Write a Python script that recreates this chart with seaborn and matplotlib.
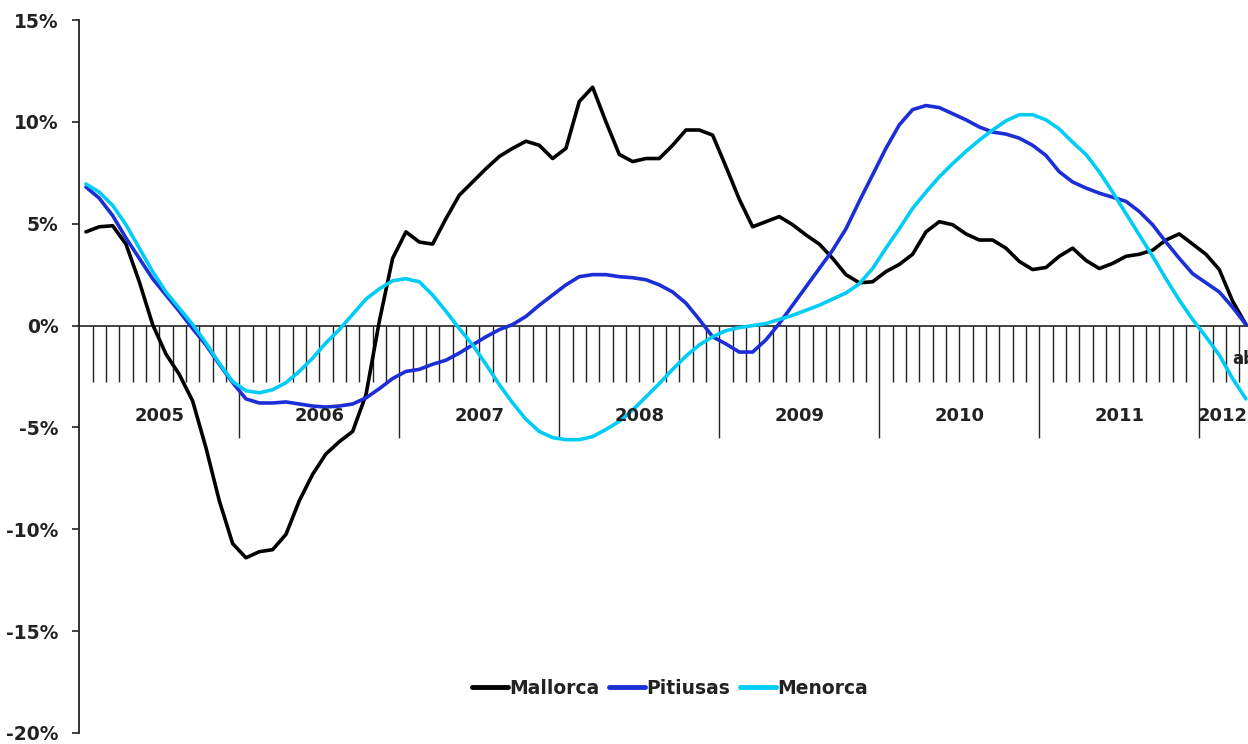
import numpy as np
import pandas as pd
import seaborn as sns
import matplotlib.pyplot as plt
from matplotlib.ticker import FuncFormatter

# monthly values, Jan 2005 .. Apr 2012 (%)
mallorca = [4.6, 4.85, 4.9, 4.0, 2.15, 0.05, -1.4, -2.4, -3.7, -6.0, -8.6, -10.7,
            -11.4, -11.1, -11.0, -10.25, -8.6, -7.3, -6.3, -5.7, -5.2, -3.4, 0.2, 3.3,
            4.6, 4.1, 4.0, 5.25, 6.4, 7.05, 7.7, 8.3, 8.7, 9.05, 8.85, 8.2,
            8.7, 11.0, 11.7, 10.0, 8.4, 8.05, 8.2, 8.2, 8.85, 9.6, 9.6, 9.35,
            7.8, 6.2, 4.85, 5.1, 5.35, 4.95, 4.45, 4.0, 3.3, 2.5, 2.1, 2.15,
            2.65, 3.0, 3.5, 4.6, 5.1, 4.95, 4.5, 4.2, 4.2, 3.8, 3.15, 2.75,
            2.85, 3.4, 3.8, 3.2, 2.8, 3.05, 3.4, 3.5, 3.7, 4.2, 4.5, 4.0,
            3.5, 2.75, 1.2, 0.05]
pitiusas = [6.8, 6.25, 5.4, 4.3, 3.3, 2.3, 1.5, 0.7, -0.15, -0.95, -1.9, -2.8,
            -3.6, -3.8, -3.8, -3.75, -3.85, -3.95, -4.0, -3.95, -3.85, -3.55, -3.1, -2.6,
            -2.25, -2.15, -1.9, -1.7, -1.35, -0.95, -0.55, -0.2, 0.05, 0.45, 1.0, 1.5,
            2.0, 2.4, 2.5, 2.5, 2.4, 2.35, 2.25, 2.0, 1.65, 1.1, 0.3, -0.55,
            -0.9, -1.3, -1.3, -0.7, 0.1, 1.0, 1.9, 2.8, 3.7, 4.75, 6.1, 7.4,
            8.7, 9.85, 10.6, 10.8, 10.7, 10.4, 10.1, 9.75, 9.5, 9.4, 9.2, 8.85,
            8.35, 7.55, 7.05, 6.75, 6.5, 6.3, 6.1, 5.6, 4.95, 4.1, 3.3, 2.55,
            2.1, 1.65, 0.9, 0.05]
menorca = [6.95, 6.55, 5.9, 4.95, 3.8, 2.65, 1.65, 0.85, 0.05, -0.85, -1.85, -2.75,
           -3.2, -3.3, -3.15, -2.8, -2.25, -1.6, -0.85, -0.2, 0.55, 1.3, 1.8, 2.2,
           2.3, 2.15, 1.5, 0.7, -0.15, -0.95, -1.9, -2.9, -3.8, -4.6, -5.2, -5.5,
           -5.6, -5.6, -5.45, -5.1, -4.7, -4.15, -3.5, -2.85, -2.15, -1.5, -0.95, -0.55,
           -0.25, -0.1, 0.0, 0.1, 0.3, 0.5, 0.75, 1.0, 1.3, 1.6, 2.05, 2.8,
           3.8, 4.75, 5.75, 6.55, 7.3, 7.95, 8.55, 9.1, 9.6, 10.05, 10.35, 10.35,
           10.1, 9.65, 9.0, 8.4, 7.55, 6.55, 5.5, 4.45, 3.4, 2.3, 1.25, 0.3,
           -0.55, -1.45, -2.6, -3.6]

years = ["2005", "2006", "2007", "2008", "2009", "2010", "2011", "2012"]
series_names = ["Mallorca", "Pitiusas", "Menorca"]
colors = {"Mallorca": "#000000", "Pitiusas": "#1C2ED6", "Menorca": "#00CCF5"}
last_month_label = "abr"

n = len(mallorca)
df = pd.DataFrame({
    "month": np.tile(np.arange(n), 3),
    "value": mallorca + pitiusas + menorca,
    "serie": np.repeat(series_names, n),
})

sns.set_style("white")
plt.rcParams["font.family"] = ["DejaVu Sans"]

W, H = 1248, 744
fig = plt.figure(figsize=(W / 100, H / 100), dpi=100)
ax_left, ax_w = 79.3, 13.333 * 88
ax = fig.add_axes([ax_left / W, 11 / H, ax_w / W, 713 / H])

sns.lineplot(data=df, x="month", y="value", hue="serie", palette=colors,
             hue_order=series_names, linewidth=2.6, ax=ax,
             solid_joinstyle="round", solid_capstyle="round")
handles, labels = ax.get_legend_handles_labels()
ax.get_legend().remove()

ax.set_xlim(-0.5, n - 0.5)
ax.set_ylim(-20, 15)
ax.set_yticks(np.arange(-20, 16, 5))
ax.yaxis.set_major_formatter(FuncFormatter(lambda v, p: f"{v:.0f}%"))
ax.set_xticks([])
ax.set_xlabel("")
ax.set_ylabel("")
for s in ["top", "right", "bottom"]:
    ax.spines[s].set_visible(False)
ax.spines["left"].set_linewidth(1.3)
ax.spines["left"].set_color("#222222")
ax.tick_params(axis="y", left=True, length=5, width=1.2, pad=10,
               labelsize=13.5, color="#222222")
for t in ax.get_yticklabels():
    t.set_fontweight("bold")
    t.set_color("#222222")

# zero line with month ticks and year separators
ax.axhline(0, color="#222222", lw=1.2, zorder=1)
month_edges = np.arange(1, n) - 0.5
year_edges = np.arange(12, n, 12) - 0.5
ax.vlines([e for e in month_edges if e not in year_edges], -2.75, 0,
          color="#222222", lw=1.0, zorder=1)
ax.vlines(year_edges, -5.5, 0, color="#222222", lw=1.0, zorder=1)

for i, yr in enumerate(years):
    start = 12 * i
    end = min(12 * i + 11, n - 1)
    xc = (start + end) / 2
    if end - start < 11:
        xc -= 0.25  # keep the partial-year label inside the figure
    ax.text(xc, -4.45, yr, ha="center", va="center",
            fontsize=13, fontweight="bold", color="#222222")

ax.text(86.0, -1.62, last_month_label, ha="left", va="center",
        fontsize=12, fontweight="bold", color="#222222", clip_on=False)

fig.legend(handles, labels, loc="center", bbox_to_anchor=(0.537, 0.075),
           ncol=3, frameon=False, handlelength=1.9, handletextpad=0.1,
           columnspacing=0.5, prop={"size": 13.5, "weight": "bold"},
           labelcolor="#222222")
for h in fig.legends[0].legend_handles:
    h.set_linewidth(3.5)

fig.savefig("out.png", dpi=100)
